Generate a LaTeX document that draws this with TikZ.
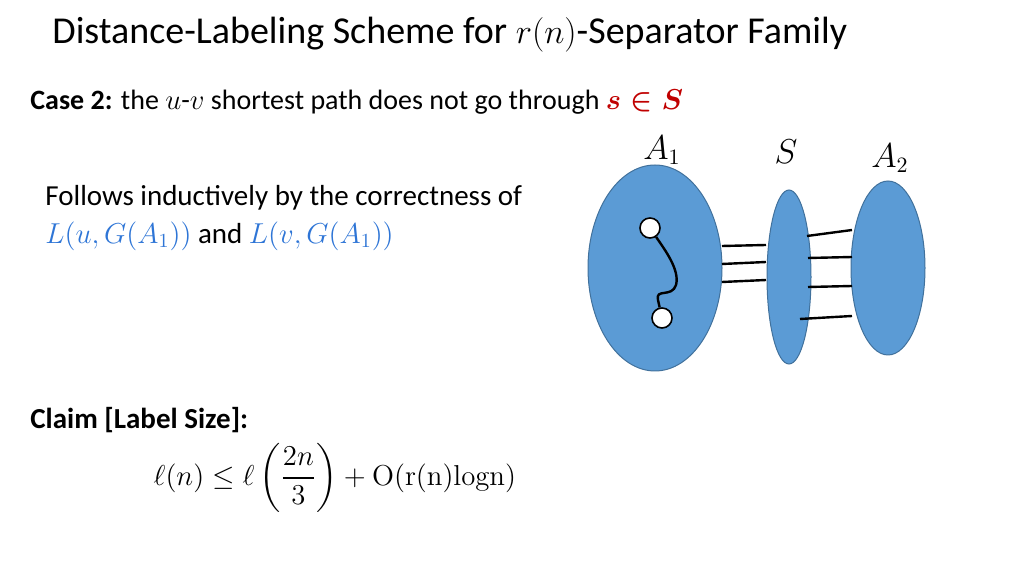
\documentclass[tikz,border=0pt]{standalone}
\usepackage{amsmath}
\usepackage[no-math]{fontspec}
\setmainfont{Carlito}
\usetikzlibrary{shapes.geometric,positioning}
\definecolor{blob}{HTML}{5B9BD5}
\definecolor{blobedge}{HTML}{41719C}
\definecolor{casered}{HTML}{C00000}
\definecolor{labblue}{HTML}{2E75D6}
\tikzset{
  part/.style={ellipse, fill=blob, draw=blobedge, line width=0.5pt, inner sep=0pt},
  vert/.style={circle, fill=white, draw=black, line width=0.8pt, minimum size=10pt, inner sep=0pt},
  edge/.style={line width=1.2pt},
  txt/.style={anchor=west, inner sep=0pt}
}
\begin{document}
\begin{tikzpicture}[x=0.5pt, y=-0.5pt]
			\useasboundingbox (0,0) rectangle (1024,576);
			% Text:
			\node[txt, font=\fontsize{19}{22}\selectfont] (title) at (52,35) {Distance-Labeling Scheme for $r(n)$-Separator Family};
			\node[txt, font=\fontsize{14}{16}\selectfont] (case) at (30,102) {\textbf{Case 2:} the $u$-$v$ shortest path does not go through \textcolor{casered}{$\boldsymbol{s\in S}$}};
			\node[txt, font=\fontsize{14.5}{17}\selectfont] (follow1) at (45,198) {Follows inductively by the correctness of};
			\node[txt, font=\fontsize{14.5}{17}\selectfont] (follow2) at (45,236) {\textcolor{labblue}{$L(u,G(A_1))$} and \textcolor{labblue}{$L(v,G(A_1))$}};
			\node[txt, font=\fontsize{14.5}{17}\selectfont] (claim) at (30,420) {\textbf{Claim [Label Size]:}};
			\node[font=\fontsize{14.5}{17}\selectfont] (bound) at (335,478) {$\ell(n)\leq\ell\left(\dfrac{2n}{3}\right)+\mathrm{O(r(n)logn)}$};
			% Parts:
			\node[part, minimum width=67, minimum height=103] (A1) at (655,268) {};
			\node[part, minimum width=22, minimum height=87] (S) at (789,277) {};
			\node[part, minimum width=37, minimum height=87] (A2) at (888,268) {};
			\node[font=\fontsize{16}{18}\selectfont] (lA1) at (662,150) {$A_1$};
			\node[font=\fontsize{18}{20}\selectfont] (lS) at (786,152) {$S$};
			\node[font=\fontsize{16}{18}\selectfont] (lA2) at (890,158) {$A_2$};
			% Path u-v:
			\node[vert] (u) at (650,228) {};
			\node[vert] (v) at (662,318) {};
			\draw[edge] (u) .. controls (665,250) and (680,270) .. (676,285) .. controls (672,298) and (655,288) .. (658,300) -- (v);
			% Edges between parts:
			\foreach \ya/\yb in {246/245, 264/262, 282/280}
				\draw[edge] (722,\ya) -- (766,\yb);
			\foreach \xa/\ya/\yb in {807/236/230, 808/258/257, 808/287/286, 800/319/316}
				\draw[edge] (\xa,\ya) -- (852,\yb);
		\end{tikzpicture}
\end{document}
